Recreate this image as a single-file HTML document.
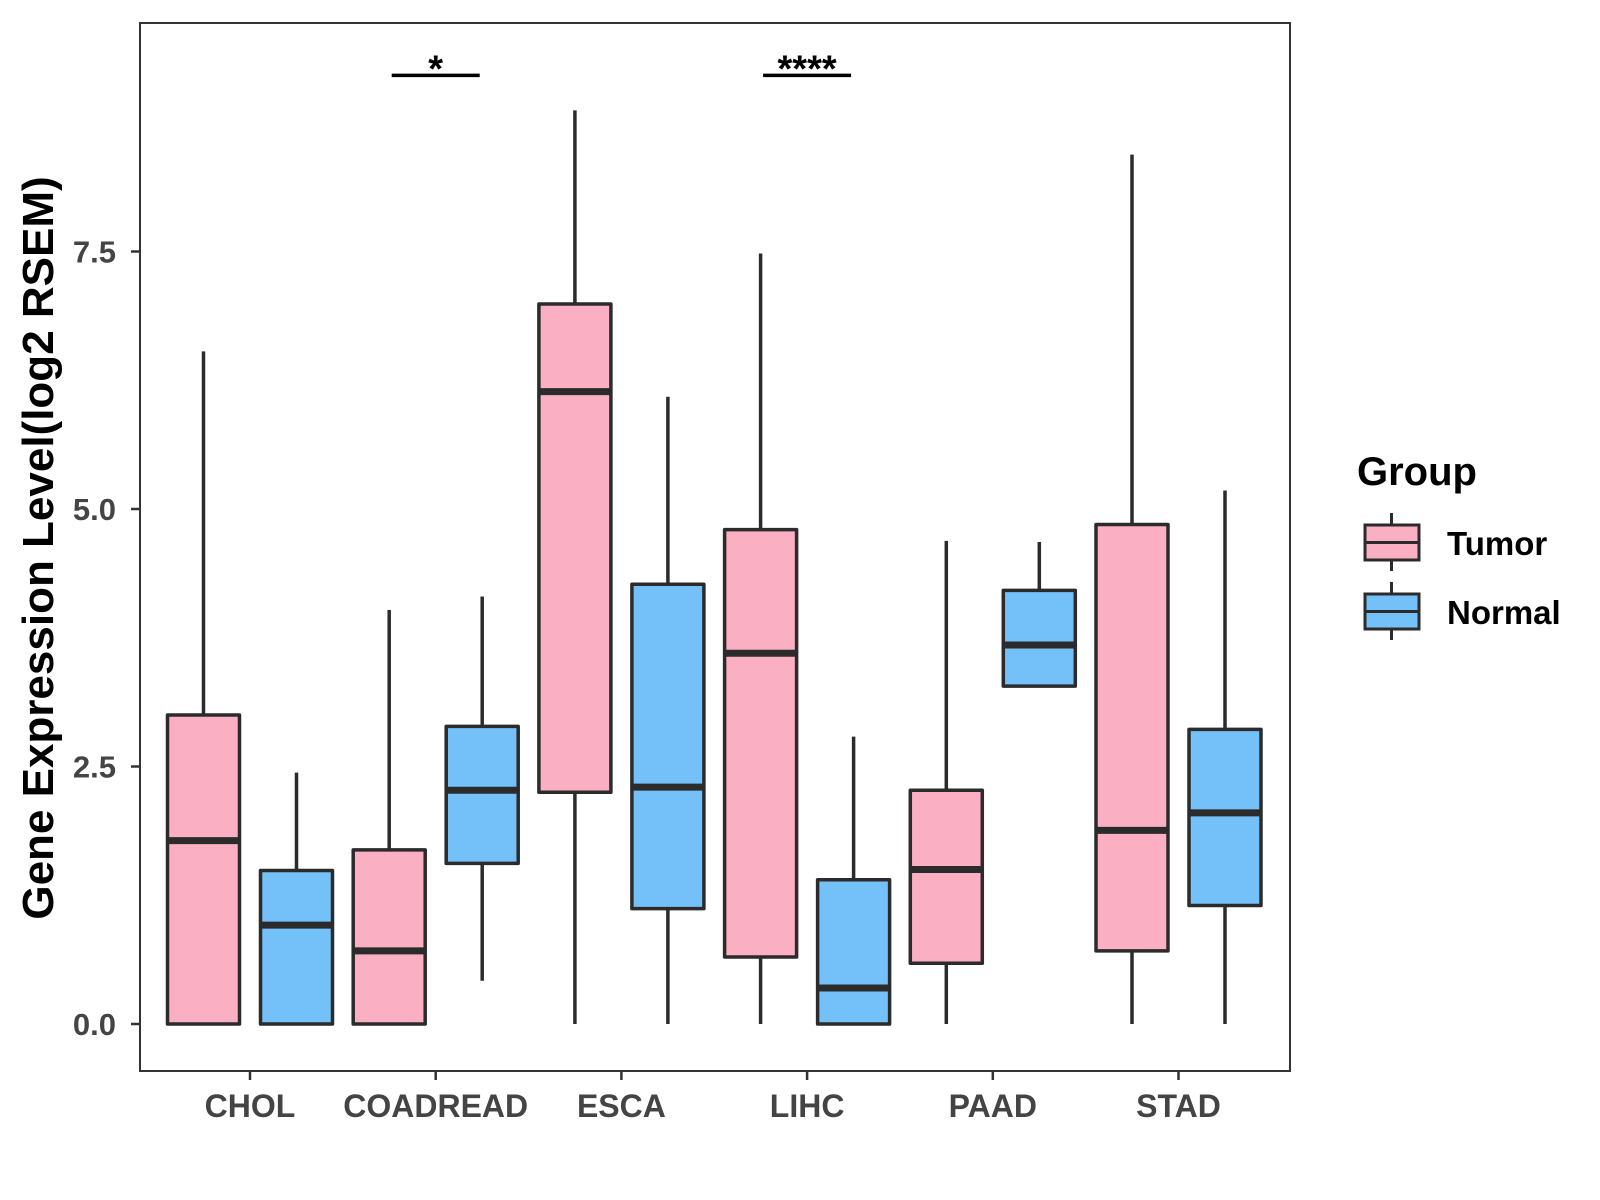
<!DOCTYPE html>
<html><head><meta charset="utf-8"><style>
html,body{margin:0;padding:0;background:#fff;}
svg{display:block;font-family:"Liberation Sans",Arial,sans-serif;}
</style></head><body>
<svg id="chart" width="1600" height="1200" viewBox="0 0 1600 1200">
<rect x="0" y="0" width="1600" height="1200" fill="#fff"/>
<g id="plot"></g>
<text transform="translate(53,548) rotate(-90)" text-anchor="middle" font-size="44" font-weight="bold" fill="#000">Gene Expression Level(log2 RSEM)</text>
<g>
<text x="1357" y="485" font-size="40" font-weight="bold" fill="#000">Group</text>
<g>
<line x1="1391.5" y1="513" x2="1391.5" y2="571" stroke="#2b2b2b" stroke-width="3"/>
<rect x="1365" y="525" width="54" height="35" fill="#FBAFC2" stroke="#2b2b2b" stroke-width="3"/>
<line x1="1365" y1="542.5" x2="1419" y2="542.5" stroke="#2b2b2b" stroke-width="3"/>
<text x="1447" y="555" font-size="33" font-weight="bold" fill="#000">Tumor</text>
</g>
<g>
<line x1="1391.5" y1="582" x2="1391.5" y2="640" stroke="#2b2b2b" stroke-width="3"/>
<rect x="1365" y="594" width="54" height="35" fill="#74C0F8" stroke="#2b2b2b" stroke-width="3"/>
<line x1="1365" y1="611.5" x2="1419" y2="611.5" stroke="#2b2b2b" stroke-width="3"/>
<text x="1447" y="624" font-size="33" font-weight="bold" fill="#000">Normal</text>
</g>
</g>
</svg>
<script>
const categories = ["CHOL","COADREAD","ESCA","LIHC","PAAD","STAD"];
const groups = ["Tumor","Normal"];
const tumorMin = [0,0,0,0,0,0];
const tumorQ1 = [0,0,2.25,0.65,0.59,0.71];
const tumorMed = [1.78,0.71,6.14,3.60,1.50,1.88];
const tumorQ3 = [3.0,1.69,6.99,4.80,2.27,4.85];
const tumorMax = [6.53,4.02,8.87,7.48,4.69,8.44];
const normalMin = [0,0.42,0,0,3.28,0];
const normalQ1 = [0,1.56,1.12,0,3.28,1.15];
const normalMed = [0.96,2.27,2.30,0.35,3.68,2.05];
const normalQ3 = [1.49,2.89,4.27,1.40,4.21,2.86];
const normalMax = [2.44,4.15,6.09,2.79,4.68,5.18];
const yTicks = [0,2.5,5,7.5];
const yTickLabels = ["0.0","2.5","5.0","7.5"];
const sigCategories = ["COADREAD","LIHC"];
const sigLabels = ["*","****"];
const sigY = [9.21,9.21];

const NS="http://www.w3.org/2000/svg";
const plot=document.getElementById('plot');
const L=140,R=1290,T=23,B=1071;
function yScale(v){return 1024-v*103;}
function xScale(i){return 250+i*185.7;}
const dodge=46.5, bw=72, col="#2b2b2b";
function mk(tag,attrs,parent){const e=document.createElementNS(NS,tag);for(const k in attrs)e.setAttribute(k,attrs[k]);(parent||plot).appendChild(e);return e;}

const panel=mk('rect',{x:L,y:T,width:R-L,height:B-T,fill:'none',stroke:'#333',"stroke-width":2});



yTicks.forEach((v,i)=>{
  const y=yScale(v);
  const t=mk('line',{x1:L-9,y1:y,x2:L,y2:y,stroke:'#333',"stroke-width":2.5});
  
  
  const tx=mk('text',{x:L-24,y:y+11,"text-anchor":"end","font-size":31,"font-weight":"bold",fill:'#444'});
  tx.textContent=yTickLabels[i];
  
  
});
categories.forEach((c,i)=>{
  const x=xScale(i);
  const t=mk('line',{x1:x,y1:B,x2:x,y2:B+9,stroke:'#333',"stroke-width":2.5});
  
  
  const tx=mk('text',{x:x,y:1117,"text-anchor":"middle","font-size":32,"font-weight":"bold",fill:'#444'});
  tx.textContent=c;
  
  
});
function drawBox(i,off,mn,q1,md,q3,mx,fill,name){
  const cx=xScale(i)+off;
  const g=mk('g',{});
  
  
  mk('line',{x1:cx,y1:yScale(mx),x2:cx,y2:yScale(q3),stroke:col,"stroke-width":3.5},g);
  mk('line',{x1:cx,y1:yScale(q1),x2:cx,y2:yScale(mn),stroke:col,"stroke-width":3.5},g);
  mk('rect',{x:cx-bw/2,y:yScale(q3),width:bw,height:Math.max(0,yScale(q1)-yScale(q3)),fill:fill,stroke:col,"stroke-width":3.5,"stroke-linejoin":"round"},g);
  mk('line',{x1:cx-bw/2,y1:yScale(md),x2:cx+bw/2,y2:yScale(md),stroke:col,"stroke-width":7},g);
}
categories.forEach((c,i)=>{
  drawBox(i,-dodge,tumorMin[i],tumorQ1[i],tumorMed[i],tumorQ3[i],tumorMax[i],'#FBAFC2','box-tumor-'+c.toLowerCase());
  drawBox(i,dodge,normalMin[i],normalQ1[i],normalMed[i],normalQ3[i],normalMax[i],'#74C0F8','box-normal-'+c.toLowerCase());
});
sigCategories.forEach((c,k)=>{
  const i=categories.indexOf(c);
  const x=xScale(i), y=yScale(sigY[k]);
  const ln=mk('line',{x1:x-44,y1:y,x2:x+44,y2:y,stroke:'#000',"stroke-width":3.5});
  
  
  const tx=mk('text',{x:x,y:y+6,"text-anchor":"middle","font-size":38,"font-weight":"bold",fill:'#000'});
  tx.textContent=sigLabels[k];
  
  
});
</script>
</body></html>
